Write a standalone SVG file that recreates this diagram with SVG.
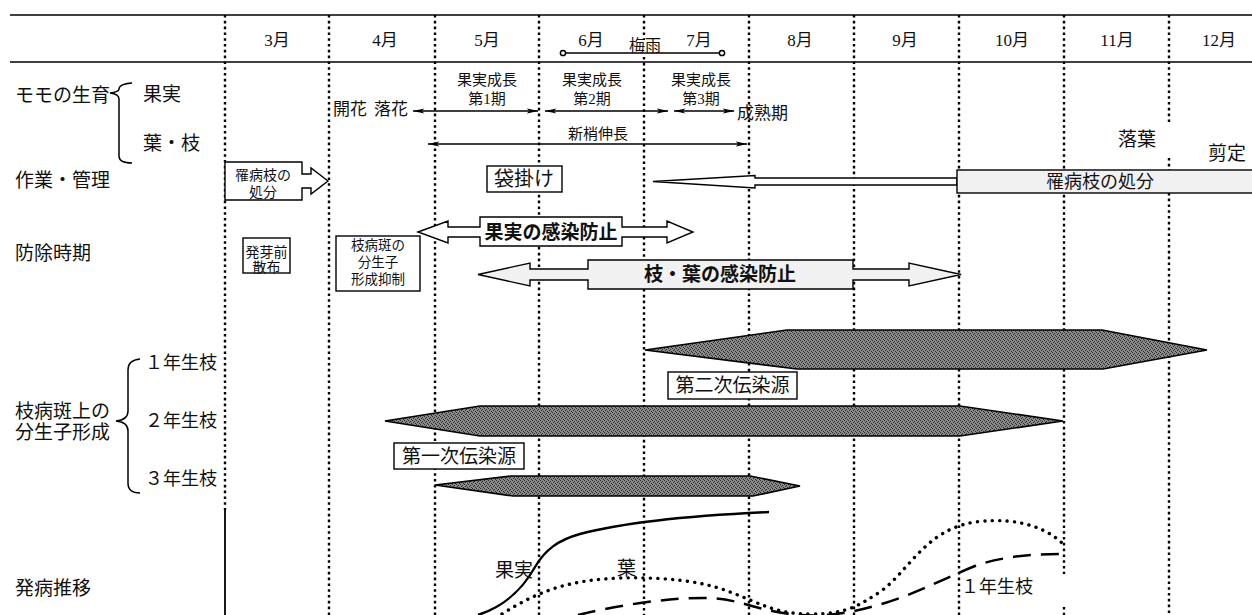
<svg xmlns="http://www.w3.org/2000/svg" width="1252" height="615" viewBox="0 0 1252 615">
<style>
.t{font-family:'Liberation Serif','Noto Sans CJK JP',serif;fill:#111}
.g{font-family:'Noto Sans CJK JP',sans-serif;font-weight:bold;fill:#111}
.vl{stroke:#000;stroke-width:2.4;stroke-dasharray:2.6 3.2;fill:none}
.hl{stroke:#000;stroke-width:1.6}
.ar{stroke:#000;stroke-width:1.6;fill:none}
.bx{fill:#fff;stroke:#000;stroke-width:1.4}
.lt{fill:#f1f1f1;stroke:#000;stroke-width:1.4}
.dk{fill:url(#st);stroke:#000;stroke-width:1.6}
.br{fill:none;stroke:#000;stroke-width:1.5}
</style>
<defs>
<marker id="ah" viewBox="0 0 12 6" refX="11.5" refY="3" markerWidth="12" markerHeight="6" markerUnits="userSpaceOnUse" orient="auto-start-reverse"><path d="M0,0.4 L12,3 L0,5.6 L3,3 Z" fill="#000"/></marker>
<pattern id="st" width="4" height="4" patternUnits="userSpaceOnUse">
<rect width="4" height="4" fill="#8a8a8a"/>
<rect x="0" y="0" width="1" height="1" fill="#2a2a2a"/>
<rect x="2" y="1" width="1" height="1" fill="#2a2a2a"/>
<rect x="1" y="2" width="1" height="1" fill="#2a2a2a"/>
<rect x="3" y="3" width="1" height="1" fill="#2a2a2a"/>
</pattern>
</defs>
<rect width="1252" height="615" fill="#fff"/>

<g id="grid">
<line class="hl" x1="10" y1="15" x2="1252" y2="15"/>
<line class="hl" x1="10" y1="62" x2="1252" y2="62"/>
<line class="vl" x1="225" y1="15" x2="225" y2="510"/>
<line x1="225" y1="510" x2="225" y2="615" stroke="#000" stroke-width="1.8"/>
<line class="vl" x1="329" y1="15" x2="329" y2="615"/>
<line class="vl" x1="435" y1="15" x2="435" y2="615"/>
<line class="vl" x1="539" y1="15" x2="539" y2="615"/>
<line class="vl" x1="644" y1="15" x2="644" y2="40"/>
<line class="vl" x1="644" y1="57" x2="644" y2="615"/>
<line class="vl" x1="749" y1="15" x2="749" y2="615"/>
<line class="vl" x1="854" y1="15" x2="854" y2="615"/>
<line class="vl" x1="959" y1="15" x2="959" y2="615"/>
<line class="vl" x1="1064" y1="15" x2="1064" y2="574"/>
<line class="vl" x1="1064" y1="607" x2="1064" y2="615"/>
<line class="vl" x1="1169" y1="15" x2="1169" y2="122"/>
<line class="vl" x1="1169" y1="158" x2="1169" y2="615"/>
</g>

<g id="months" class="t" font-size="17" text-anchor="middle">
<text x="277" y="46">3月</text>
<text x="385" y="46">4月</text>
<text x="487" y="46">5月</text>
<text x="591" y="46">6月</text>
<text x="699" y="46">7月</text>
<text x="800" y="46">8月</text>
<text x="905" y="46">9月</text>
<text x="1012" y="46">10月</text>
<text x="1117" y="46">11月</text>
<text x="1219" y="46">12月</text>
</g>

<g id="tsuyu">
<line x1="563" y1="53" x2="722" y2="53" stroke="#000" stroke-width="1.6"/>
<circle cx="563" cy="53" r="2.6" fill="#fff" stroke="#000" stroke-width="1.5"/>
<circle cx="722" cy="53" r="2.6" fill="#fff" stroke="#000" stroke-width="1.5"/>
<text class="t" x="645" y="51" font-size="16" text-anchor="middle">梅雨</text>
</g>

<g id="left-labels" class="t" font-size="19">
<text x="15" y="102">モモの生育</text>
<text x="143" y="101">果実</text>
<text x="143" y="150">葉・枝</text>
<text x="15" y="187">作業・管理</text>
<text x="15" y="260">防除時期</text>
<text x="15" y="418">枝病斑上の</text>
<text x="15" y="439">分生子形成</text>
<text x="145" y="369" font-size="18">１年生枝</text>
<text x="145" y="427" font-size="18">２年生枝</text>
<text x="145" y="485" font-size="18">３年生枝</text>
<text x="15" y="595">発病推移</text>
</g>

<g id="braces">
<path class="br" d="M132,83 Q119,84 119,89 Q119,92 110,93 Q119,94 119,99 L119,156 Q119,163 132,163"/>
<path class="br" d="M140,359 Q128,360 128,370 L128,411 Q128,420 116,421 Q128,422 128,431 L128,483 Q128,493 140,493"/>
</g>

<g id="growth">
<g class="t" font-size="15" text-anchor="middle">
<text x="487" y="85">果実成長</text>
<text x="487" y="104">第1期</text>
<text x="592" y="85">果実成長</text>
<text x="592" y="104">第2期</text>
<text x="701" y="85">果実成長</text>
<text x="701" y="104">第3期</text>
<text x="598" y="139">新梢伸長</text>
</g>
<g class="t" font-size="17">
<text x="333" y="115">開花</text>
<text x="374" y="115">落花</text>
<text x="737" y="119">成熟期</text>
</g>
<text class="t" x="1137" y="146" font-size="19" text-anchor="middle">落葉</text>
<text class="t" x="1227" y="160" font-size="19" text-anchor="middle">剪定</text>
</g>

<g id="connectors">
<line class="ar" x1="413" y1="111" x2="538" y2="111" marker-start="url(#ah)" marker-end="url(#ah)"/>
<line class="ar" x1="545" y1="111" x2="668" y2="111" marker-start="url(#ah)" marker-end="url(#ah)"/>
<line class="ar" x1="674" y1="111" x2="734" y2="111" marker-start="url(#ah)" marker-end="url(#ah)"/>
<line class="ar" x1="428" y1="144" x2="747" y2="144" marker-start="url(#ah)" marker-end="url(#ah)"/>
</g>

<g id="work-left">
<path class="bx" d="M225,162 H302 V174 H311 V168 L328,181 L311,194 V188 H302 V200 H225 Z"/>
<text class="t" x="263" y="180" font-size="14" text-anchor="middle">罹病枝の</text>
<text class="t" x="263" y="197" font-size="14" text-anchor="middle">処分</text>
</g>

<g id="fukurokake">
<rect class="bx" x="487" y="166" width="75" height="26"/>
<text class="t" x="524" y="186" font-size="20" text-anchor="middle">袋掛け</text>
</g>

<g id="work-right">
<path class="bx" d="M653,181.5 L755,175.5 V178 H957 V185 H755 V188 Z"/>
<rect class="lt" x="957" y="170" width="300" height="23"/>
<text class="t" x="1100" y="188" font-size="18" text-anchor="middle">罹病枝の処分</text>
</g>

<g id="bud-spray">
<rect class="bx" x="243" y="238" width="47" height="35"/>
<text class="t" x="266.5" y="257" font-size="14" text-anchor="middle">発芽前</text>
<text class="t" x="266.5" y="272" font-size="14" text-anchor="middle">散布</text>
</g>

<g id="suppress">
<rect class="bx" x="336" y="236" width="84" height="55"/>
<g class="t" font-size="13.5" text-anchor="middle">
<text x="378" y="250">枝病斑の</text>
<text x="378" y="267">分生子</text>
<text x="378" y="284">形成抑制</text>
</g>
</g>

<g id="fruit-protect">
<path class="bx" d="M418,232 L448,221 V227 H480 V217 H622 V227 H667 V221 L693,232 L667,243 V237 H622 V246 H480 V237 H448 V243 Z"/>
<text class="g" x="551" y="239" font-size="19" text-anchor="middle">果実の感染防止</text>
</g>

<g id="leaf-protect">
<path class="lt" d="M478,274.5 L530,263 V269 H588 V260 H853 V269 H909 V263 L961,274.5 L909,286 V280 H853 V289 H588 V280 H530 V286 Z"/>
<text class="g" x="720" y="281" font-size="19" text-anchor="middle">枝・葉の感染防止</text>
</g>

<g id="shape-1yr">
<path class="dk" d="M645,350 L787,330 H1102 L1207,350 L1103,369 H797 Z"/>
</g>
<g id="label-2nd">
<rect class="bx" x="668" y="372" width="129" height="27"/>
<text class="t" x="732.5" y="392" font-size="19" text-anchor="middle">第二次伝染源</text>
</g>
<g id="shape-2yr">
<path class="dk" d="M385,421 L480,406 H960 L1063,421 L960,436 H480 Z"/>
</g>
<g id="label-1st">
<rect class="bx" x="394" y="443" width="130" height="26"/>
<text class="t" x="459" y="463" font-size="19" text-anchor="middle">第一次伝染源</text>
</g>
<g id="shape-3yr">
<path class="dk" d="M435,485 L511,476 H750 L800,486 L753,496 H513 Z"/>
</g>

<g id="curves" fill="none" stroke="#000">
<path d="M478,615 C505,606 522,590 535,567 C545,550 558,540 580,534 C610,526 660,517 769,512" stroke-width="2.4"/>
<path d="M502,614 C540,590 570,580 620,578 C660,577 700,580 730,592 C760,603 775,614 810,614 C850,614 860,604 880,592 C910,570 925,530 975,522 C1020,516 1050,530 1064,545" stroke-width="3.4" stroke-dasharray="0.1 7.3" stroke-linecap="round"/>
<path d="M578,615 C620,605 670,597 710,598 C740,599 760,612 800,615 C830,617 855,612 885,603 C920,592 945,578 975,566 C1000,557 1030,554 1062,554" stroke-width="2.5" stroke-dasharray="18 10"/>
</g>

<g id="curve-labels" class="t" font-size="19">
<text x="495" y="577">果実</text>
<text x="617" y="575">葉</text>
<text x="961" y="593" font-size="18">１年生枝</text>
</g>
</svg>
